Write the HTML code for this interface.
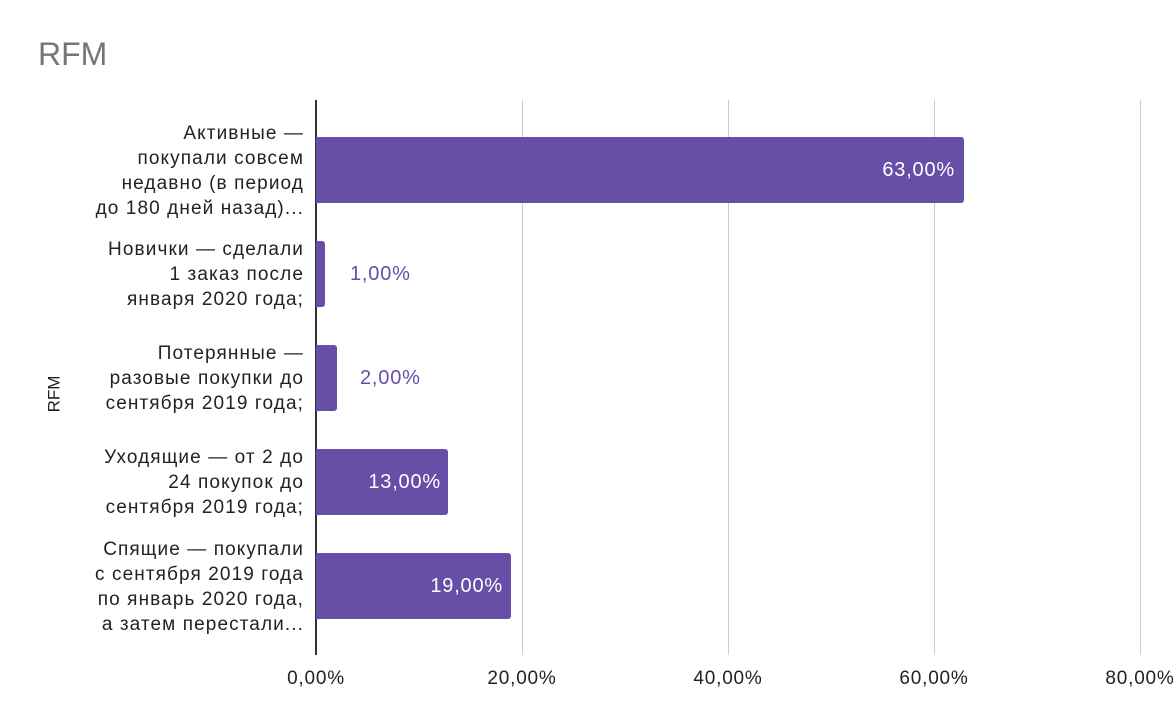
<!DOCTYPE html>
<html><head><meta charset="utf-8"><style>
body{margin:0;background:#fff;width:1176px;height:727px;overflow:hidden;font-family:"Liberation Sans",sans-serif;position:relative}
.a{position:absolute}
.lab{position:absolute;right:872px;text-align:right;font-size:19px;letter-spacing:1.1px;line-height:25px;color:#222;white-space:nowrap}
.bar{position:absolute;left:316px;height:66px;background:#674ea7;border-radius:0 3px 3px 0}
.v{position:absolute;font-size:20px;letter-spacing:0.8px;line-height:66px}
.g{position:absolute;top:100px;height:555px;width:1px;background:#ccc}
.t{position:absolute;top:668px;font-size:19px;letter-spacing:0.8px;color:#222;width:120px;text-align:center}
</style></head><body>
<div class="a" style="left:38px;top:36px;font-size:32px;color:#757575">RFM</div>
<div class="a" style="left:36px;top:384px;font-size:17px;color:#222;transform:rotate(-90deg);transform-origin:center">RFM</div>
<div class="g" style="left:522px"></div><div class="g" style="left:728px"></div><div class="g" style="left:934px"></div><div class="g" style="left:1140px"></div>
<div class="a" style="left:315px;top:100px;height:555px;width:2px;background:#333"></div>
<div class="t" style="left:256px">0,00%</div><div class="t" style="left:462px">20,00%</div><div class="t" style="left:668px">40,00%</div><div class="t" style="left:874px">60,00%</div><div class="t" style="left:1080px">80,00%</div>
<div class="lab" style="top:121px">Активные —<br>покупали совсем<br>недавно (в период<br>до 180 дней назад)...</div>
<div class="lab" style="top:237px">Новички — сделали<br>1 заказ после<br>января 2020 года;</div>
<div class="lab" style="top:341px">Потерянные —<br>разовые покупки до<br>сентября 2019 года;</div>
<div class="lab" style="top:445px">Уходящие — от 2 до<br>24 покупок до<br>сентября 2019 года;</div>
<div class="lab" style="top:537px">Спящие — покупали<br>с сентября 2019 года<br>по январь 2020 года,<br>а затем перестали...</div>
<div class="bar" style="top:137px;width:648px"></div><div class="v" style="top:137px;right:221px;color:#fff">63,00%</div>
<div class="bar" style="top:241px;width:9px"></div><div class="v" style="top:241px;left:350px;color:#674ea7">1,00%</div>
<div class="bar" style="top:345px;width:21px"></div><div class="v" style="top:345px;left:360px;color:#674ea7">2,00%</div>
<div class="bar" style="top:449px;width:132px"></div><div class="v" style="top:449px;right:735px;color:#fff">13,00%</div>
<div class="bar" style="top:553px;width:195px"></div><div class="v" style="top:553px;right:673px;color:#fff">19,00%</div>
</body></html>
